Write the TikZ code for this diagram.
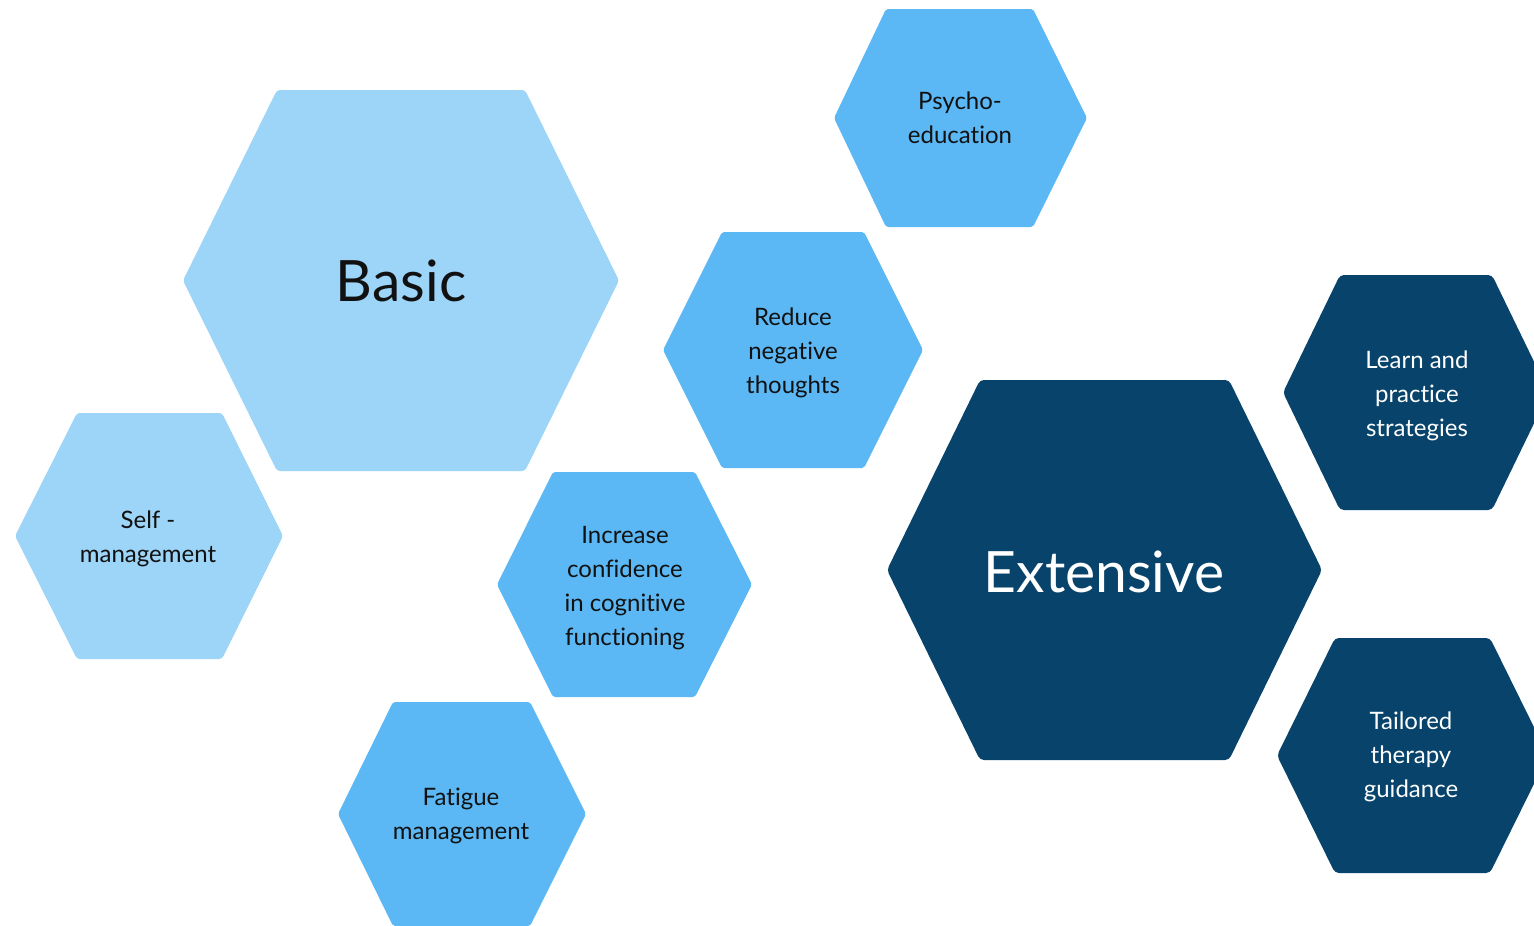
\documentclass[tikz,border=0pt]{standalone}
\usepackage{fontspec}
\setmainfont{Lato}[Ligatures=NoCommon]
\definecolor{lightb}{HTML}{9DD5F8}
\definecolor{midb}{HTML}{5BB8F5}
\definecolor{darkb}{HTML}{07436A}
\definecolor{txt}{HTML}{111111}
\newcommand{\hexa}[7]{\fill[#1] (#2,{(#6+#7)/2}) -- (#3,#6) -- (#4,#6) -- (#5,{(#6+#7)/2}) -- (#4,#7) -- (#3,#7) -- cycle;}
\begin{document}
\begin{tikzpicture}[x=1pt,y=-1pt,
  hexlight/.style={fill=lightb, rounded corners=3pt},
  hexmid/.style={fill=midb, rounded corners=2pt},
  hexdark/.style={fill=darkb, rounded corners=4pt},
  small/.style={text=txt, align=center, font=\fontsize{24}{34}\selectfont, inner sep=0pt},
  smallw/.style={small, text=white},
  big/.style={text=txt, font=\fontsize{57}{70}\selectfont, inner sep=0pt},
  bigw/.style={big, text=white}]
\useasboundingbox (0,0) rectangle (1534,926);
\clip (0,0) rectangle (1534,926);
\hexa{hexlight}{183}{277}{525}{619}{90}{471}
\hexa{hexlight}{15}{77}{222}{283}{413}{659}
\hexa{hexmid}{834}{886}{1033}{1087}{9}{227}
\hexa{hexmid}{663}{722}{864}{923}{232}{468}
\hexa{hexmid}{497}{553}{695}{752}{472}{697}
\hexa{hexmid}{338}{393}{530}{586}{702}{926}
\hexa{hexdark}{887}{980}{1229}{1322}{380}{760}
\hexa{hexdark}{1283}{1340}{1492}{1549}{275}{510}
\hexa{hexdark}{1277}{1335}{1490}{1548}{638}{873}
\node[big] (basic) at (401,281) {Basic};
\node[small] (self) at (148,539) {Self -\\management};
\node[small] (psycho) at (960,118) {Psycho-\\education};
\node[small] (reduce) at (793,353) {Reduce\\negative\\thoughts};
\node[small] (increase) at (625,588) {Increase\\confidence\\in cognitive\\functioning};
\node[small] (fatigue) at (461,816) {Fatigue\\management};
\node[bigw] (extensive) at (1104,572) {Extensive};
\node[smallw] (learn) at (1417,396) {Learn and\\practice\\strategies};
\node[smallw] (tailored) at (1411,757) {Tailored\\therapy\\guidance};
\end{tikzpicture}
\end{document}
